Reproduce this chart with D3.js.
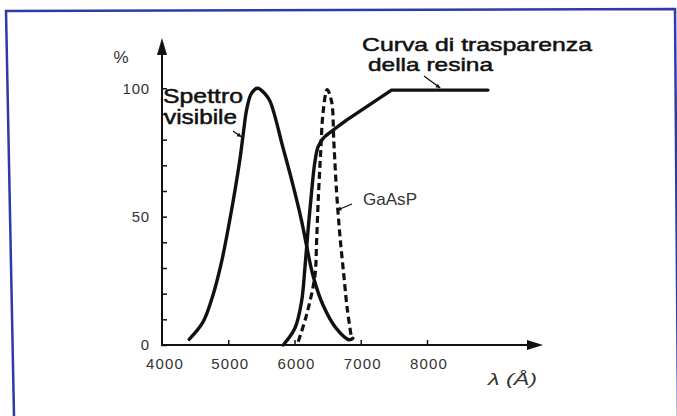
<!DOCTYPE html>
<html>
<head>
<meta charset="utf-8">
<script src="https://cdn.jsdelivr.net/npm/d3@7"></script>
<style>
  body { margin: 0; background: #fff; }
  svg { display: block; }
  .lbl { font-family: "Liberation Sans", Arial, sans-serif; fill: #111; }
  .bold { stroke: #111; stroke-width: 0.5px; }
</style>
</head>
<body>
<div id="chart"></div>
<script>
// wavelength (Angstrom) / percent
const spettroLambda = [4410, 4620, 4770, 4900, 5000, 5100, 5180, 5230, 5280, 5350, 5440, 5550, 5630, 5830, 5980, 6110, 6180, 6280, 6430, 6630, 6830, 6880];
const spettroValue  = [2.2, 9, 19.5, 32.5, 45.5, 60, 73, 83, 92, 98, 100, 98, 95, 76.5, 62, 48, 39, 27, 15.6, 6.5, 2, 2.6];

// smooth rise, then straight segments up to the plateau
const resinaLambda = [5830, 6006, 6107, 6157, 6207, 6258, 6308, 6357, 6433, 6584, 6786, 7464, 8920];
const resinaValue  = [0, 6.5, 17, 30, 45.5, 59.7, 71.4, 77.3, 80.5, 83.7, 87.6, 99.3, 99.3];
const resinaSmooth = 11; // first points drawn as a smooth curve

const gaasLambda = [6056, 6182, 6308, 6333, 6357, 6393, 6433, 6493, 6560, 6594, 6635, 6685, 6745, 6795, 6861];
const gaasValue  = [1.3, 11.7, 27, 40, 55.8, 74, 91, 99.5, 94.8, 79, 59.7, 42.8, 27, 14.3, 2.6];

const xTicks = [5000, 6000, 7000, 8000];
const xTickLabels = ["4000", "5000", "6000", "7000", "8000"];
const yTicks = [0, 10, 20, 30, 40, 50, 60, 70, 80, 90, 100];
const yTickLabels = [0, 50, 100];

const width = 677, height = 416;

const svg = d3.select("#chart").append("svg")
    .attr("width", width)
    .attr("height", height);

// blue frame (scanned page border)
svg.append("path")
    .attr("d", "M14,416 L6,11 L675,9 L678,416")
    .attr("fill", "none")
    .attr("stroke", "#2c3ca4")
    .attr("stroke-width", 2.5);

const x = d3.scaleLinear().domain([4000, 8000]).range([162, 427]);
const y = d3.scaleLinear().domain([0, 100]).range([345, 88.3]);

// y axis ticks (inside) + labels
const yAxis = svg.append("g")
    .attr("transform", "translate(" + x(4000) + ",0)")
    .call(d3.axisLeft(y).tickValues(yTicks).tickSizeInner(-5).tickSizeOuter(0).tickPadding(12)
        .tickFormat(d => yTickLabels.includes(d) ? d : ""));
yAxis.select(".domain").remove();
yAxis.selectAll(".tick line").attr("stroke", "#111").attr("stroke-width", 1.5);
yAxis.selectAll(".tick text")
    .style("font-family", "Liberation Sans, Arial, sans-serif")
    .style("font-size", "15px")
    .style("fill", "#333")
    .attr("letter-spacing", "0.8");

// x axis ticks (inside)
const xAxis = svg.append("g")
    .attr("transform", "translate(0," + y(0) + ")")
    .call(d3.axisBottom(x).tickValues(xTicks).tickSizeInner(-5).tickSizeOuter(0).tickFormat(""));
xAxis.select(".domain").remove();
xAxis.selectAll(".tick line").attr("stroke", "#111").attr("stroke-width", 1.5);

// x tick labels
svg.append("g").selectAll("text")
    .data(xTickLabels)
    .enter().append("text")
    .attr("x", (d, i) => x(+d) + (i === 0 ? 3 : 2))
    .attr("y", 369)
    .attr("text-anchor", "middle")
    .style("font-family", "Liberation Sans, Arial, sans-serif")
    .style("font-size", "15px")
    .style("fill", "#333")
    .attr("letter-spacing", "1.2")
    .text(d => d);

// axis lines with arrow heads
svg.append("line")
    .attr("x1", x(4000)).attr("y1", y(0) + 1)
    .attr("x2", x(4000)).attr("y2", 50)
    .attr("stroke", "#111").attr("stroke-width", 2);
svg.append("path")
    .attr("d", `M${x(4000)},38 L${x(4000) - 5},55 L${x(4000) + 5},55 Z`)
    .attr("fill", "#111");
svg.append("line")
    .attr("x1", x(4000)).attr("y1", y(0))
    .attr("x2", 530).attr("y2", y(0))
    .attr("stroke", "#111").attr("stroke-width", 2);
svg.append("path")
    .attr("d", `M543,${y(0)} L527,${y(0) - 5} L527,${y(0) + 5} Z`)
    .attr("fill", "#111");

// curves
const smooth = d3.line()
    .x(d => x(d[0]))
    .y(d => y(d[1]))
    .curve(d3.curveCatmullRom.alpha(0.5));
const straight = d3.line()
    .x(d => x(d[0]))
    .y(d => y(d[1]));

const zip = (a, b) => a.map((v, i) => [v, b[i]]);

svg.append("path")
    .datum(zip(spettroLambda, spettroValue))
    .attr("d", smooth)
    .attr("fill", "none")
    .attr("stroke", "#111")
    .attr("stroke-width", 3.4)
    .attr("stroke-linecap", "round");

const resina = zip(resinaLambda, resinaValue);
svg.append("path")
    .attr("d", smooth(resina.slice(0, resinaSmooth)) + straight(resina.slice(resinaSmooth - 1)).replace(/^M/, "L"))
    .attr("fill", "none")
    .attr("stroke", "#111")
    .attr("stroke-width", 3.4)
    .attr("stroke-linecap", "round")
    .attr("stroke-linejoin", "round");

svg.append("path")
    .datum(zip(gaasLambda, gaasValue))
    .attr("d", smooth)
    .attr("fill", "none")
    .attr("stroke", "#111")
    .attr("stroke-width", 3.2)
    .attr("stroke-dasharray", "7,4");

// labels
svg.append("text").attr("class", "lbl")
    .attr("x", 121).attr("y", 63)
    .attr("text-anchor", "middle")
    .style("font-size", "17px")
    .style("fill", "#333")
    .text("%");

svg.append("text").attr("class", "lbl bold")
    .attr("x", 163).attr("y", 103)
    .attr("textLength", 80).attr("lengthAdjust", "spacingAndGlyphs")
    .style("font-size", "20px")
    .text("Spettro");
svg.append("text").attr("class", "lbl bold")
    .attr("x", 164).attr("y", 124)
    .attr("textLength", 73).attr("lengthAdjust", "spacingAndGlyphs")
    .style("font-size", "20px")
    .text("visibile");

svg.append("text").attr("class", "lbl bold")
    .attr("x", 362).attr("y", 51)
    .attr("textLength", 230).attr("lengthAdjust", "spacingAndGlyphs")
    .style("font-size", "19px")
    .text("Curva di trasparenza");
svg.append("text").attr("class", "lbl bold")
    .attr("x", 368).attr("y", 71)
    .attr("textLength", 125).attr("lengthAdjust", "spacingAndGlyphs")
    .style("font-size", "19px")
    .text("della resina");

svg.append("text").attr("class", "lbl")
    .attr("x", 363).attr("y", 205)
    .attr("textLength", 54).attr("lengthAdjust", "spacingAndGlyphs")
    .style("font-size", "17px")
    .style("fill", "#333")
    .text("GaAsP");

svg.append("text").attr("class", "lbl")
    .attr("x", 488).attr("y", 385)
    .attr("textLength", 49).attr("lengthAdjust", "spacingAndGlyphs")
    .style("font-size", "16px")
    .style("font-style", "italic")
    .style("fill", "#333")
    .text("λ (Å)");

// small pointer arrows from labels to curves
const pointer = (x1, y1, x2, y2) => {
    svg.append("line")
        .attr("x1", x1).attr("y1", y1).attr("x2", x2).attr("y2", y2)
        .attr("stroke", "#111").attr("stroke-width", 1.3);
    const a = Math.atan2(y2 - y1, x2 - x1), s = 5;
    const p1 = [x2 - s * Math.cos(a - 0.45), y2 - s * Math.sin(a - 0.45)];
    const p2 = [x2 - s * Math.cos(a + 0.45), y2 - s * Math.sin(a + 0.45)];
    svg.append("path")
        .attr("d", `M${x2},${y2} L${p1} L${p2} Z`)
        .attr("fill", "#111");
};
pointer(233, 131, x(5215) - 1, y(81));
pointer(352, 204, x(6610) + 2, y(52.5));
pointer(424, 76, x(8200), y(99.3) - 2);
</script>
</body>
</html>
